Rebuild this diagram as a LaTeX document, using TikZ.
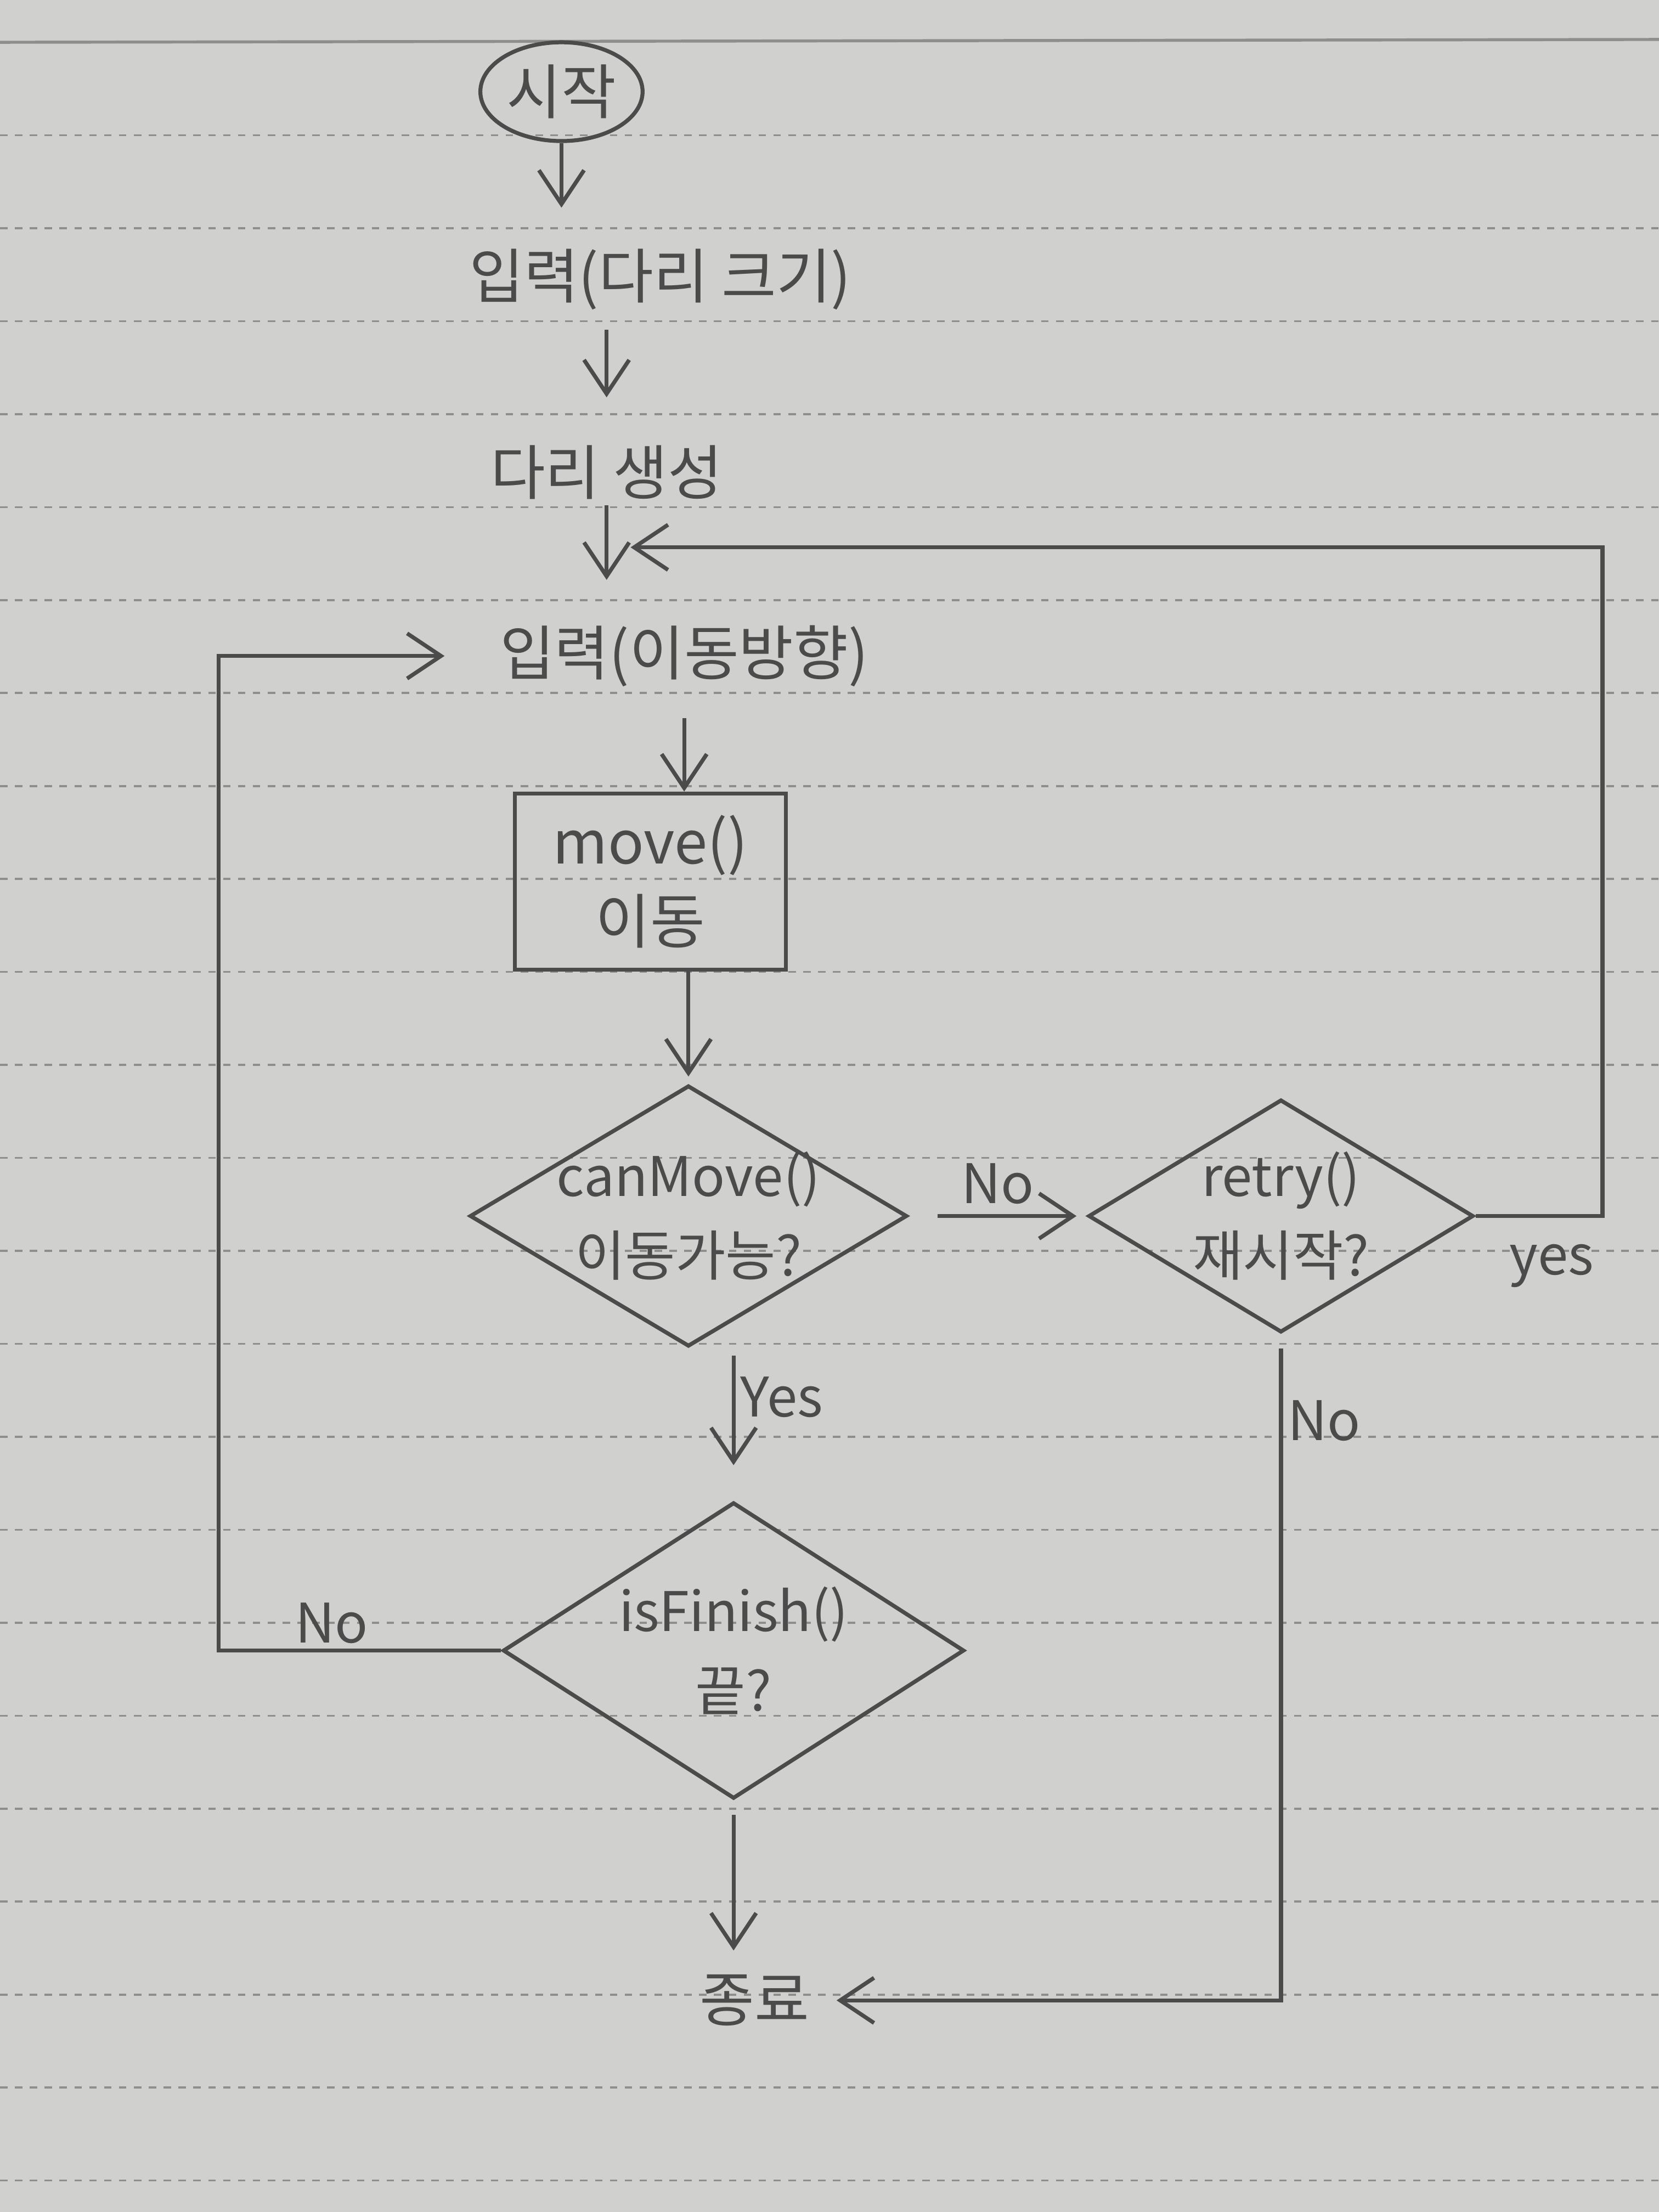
\documentclass[tikz,border=0pt]{standalone}
\usepackage{fontspec}
\usepackage{tikz}
\usepackage{xcolor}
\newfontfamily\kor{Noto Sans CJK KR}
\usetikzlibrary{arrows.meta,calc,positioning,shapes.geometric}
\definecolor{Pencil}{HTML}{4B4B4B}
\definecolor{Paper}{HTML}{D0D0CE}
\definecolor{Rule_Gray}{HTML}{8E8E8C}

\begin{document}
\begin{tikzpicture}[>={Straight Barb[length=2.4mm,width=3.2mm]},
    txt/.style={font=\kor\fontsize{12}{14}\selectfont, text=Pencil, inner sep=1pt},
    lbl/.style={txt, font=\kor\fontsize{11}{13}\selectfont},
    decision/.style={txt, font=\kor\fontsize{11}{16}\selectfont, draw=Pencil, line width=0.8pt, diamond, inner sep=-2pt, align=center},
    flow/.style={->, draw=Pencil, line width=0.8pt},
    rule/.style={Rule_Gray, line width=0.4pt, dash pattern=on 1.5pt off 1.5pt}]

    % Paper
    \useasboundingbox (0,0) rectangle (11.76,15.68);
    \fill[Paper] (0,0) rectangle (11.76,15.68);
    \draw[Rule_Gray, line width=0.6pt] (0,15.38) -- (11.76,15.40);
    \foreach \k in {1,...,23}
        \draw[rule] (0,{15.38-0.659*\k}) -- (11.76,{15.38-0.659*\k});

    % Start and set-up
    \node[txt, draw=Pencil, line width=0.8pt, ellipse, minimum width=1.15cm, minimum height=0.7cm, inner sep=0pt] (start) at (3.98,15.03) {시작};
    \node[txt] (inSize) at (4.68,13.70) {입력(다리 크기)};
    \node[txt] (make) at (4.30,12.33) {다리 생성};
    \node[txt] (inDir) at (4.85,11.03) {입력(이동방향)};
    \coordinate (join) at (4.47,11.80);

    % Move step
    \node[txt, draw=Pencil, line width=0.8pt, align=center, minimum width=1.92cm, minimum height=1.25cm] (move) at (4.61,9.43) {move()\\[2pt]이동};

    % Decisions
    \node[decision, aspect=1.68, minimum width=3.1cm, minimum height=1.85cm] (canMove) at (4.88,7.06) {canMove()\\이동가능?};
    \node[decision, aspect=1.65, minimum width=2.73cm, minimum height=1.65cm] (retry) at (9.08,7.06) {retry()\\재시작?};
    \node[decision, aspect=1.56, minimum width=3.27cm, minimum height=2.1cm] (finishQ) at (5.2,3.98) {isFinish()\\끝?};

    % End
    \node[txt] (stop) at (5.35,1.5) {종료};

    % Straight flow
    \draw[flow, shorten >=0.25cm] (start.south) -- (start.south |- inSize.north);
    \draw[flow, shorten <=0.1cm, shorten >=0.3cm] (inSize.south -| make.north) -- (make.north);
    \draw[flow, shorten >=0.28cm] (make.south) -- (make.south |- inDir.north);
    \draw[flow, shorten <=0.18cm] (inDir.south) -- (inDir.south |- move.north);
    \draw[flow, shorten >=0.05cm] (move.south -| canMove.north) -- (canMove.north);

    % canMove branches
    \draw[flow, shorten <=0.2cm, shorten >=0.07cm] (canMove.east) -- node[lbl, above=1pt]{No} (retry.west);
    \draw[flow, shorten <=0.05cm, shorten >=0.25cm] (canMove.south -| finishQ.north) -- node[lbl, right, pos=0.32]{Yes} (finishQ.north);

    % retry branches
    \draw[flow] (retry.east) -- node[lbl, below=1.5mm, pos=0.6]{yes} ++(0.9,0) |- (join);
    \draw[flow, shorten <=0.1cm, shorten >=0.15cm] (retry.south) -- node[lbl, right, pos=0.13]{No} (retry.south |- stop.east) -- (stop.east);

    % isFinish branches
    \draw[flow, shorten >=0.35cm] (finishQ.west) -- node[lbl, above, pos=0.6]{No} ++(-2.0,0) |- (inDir.west);
    \draw[flow, shorten <=0.1cm, shorten >=0.13cm] (finishQ.south) -- (finishQ.south |- stop.north);

\end{tikzpicture}
\end{document}
